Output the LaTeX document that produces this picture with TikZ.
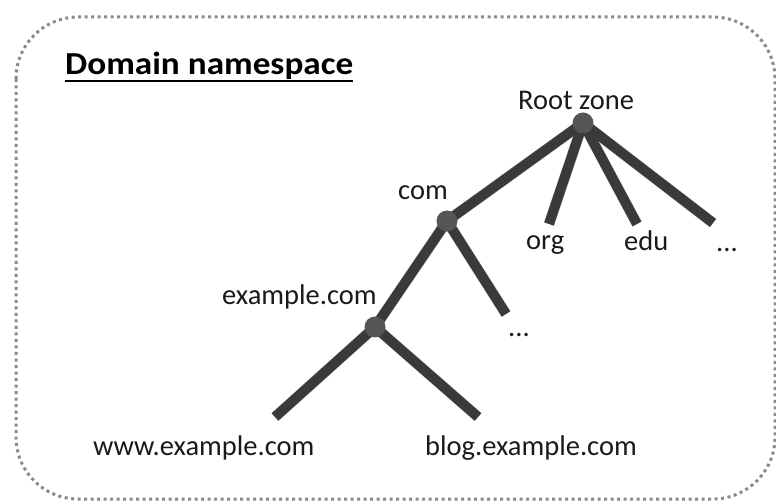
\documentclass[tikz,border=0pt]{standalone}
\usepackage{fontspec}
\setmainfont{Carlito}
\definecolor{branch}{HTML}{3A3A3A}
\definecolor{dotfill}{HTML}{555555}
\definecolor{frame}{HTML}{8A8A8A}
\definecolor{txt}{HTML}{1A1A1A}
\definecolor{shade}{HTML}{D8D8D8}
\tikzset{
  branch/.style={draw=branch, line width=10pt, line cap=butt},
  branchshadow/.style={draw=shade, line width=11pt, line cap=butt, shift={(1.5,2.5)}},
  zone/.style={circle, fill=dotfill, minimum size=21pt, inner sep=0pt},
  lab/.style={font=\fontsize{28.5}{32}\selectfont, text=txt, inner sep=0pt, anchor=base west},
}
\begin{document}
\begin{tikzpicture}[x=1pt,y=-1pt]
\useasboundingbox (0,0) rectangle (776,502);
\fill[white] (0,0) rectangle (776,502);
\draw[frame, line width=3pt, dash pattern=on 3pt off 3.5pt, rounded corners=62pt] (16,17) rectangle (775,499);
\node[font=\bfseries\fontsize{32}{36}\selectfont, anchor=base west, inner sep=0pt, xscale=1.1] (title) at (65,75) {Domain namespace};
\draw[line width=2.5pt] (title.base west) ++(0,6) coordinate (ul1) -- (title.east |- ul1);

\coordinate (root) at (583,123);
\coordinate (com) at (447,221);
\coordinate (ex) at (375,327);
\coordinate (org) at (549,224);
\coordinate (edu) at (637,224);
\coordinate (oth) at (713,223);
\coordinate (comoth) at (506,314);
\coordinate (www) at (275,417);
\coordinate (blog) at (478,417);

\foreach \a/\b in {root/com,root/org,root/edu,root/oth,com/ex,com/comoth,ex/www,ex/blog}
  \draw[branchshadow] (\a) -- (\b);
\foreach \a/\b in {root/com,root/org,root/edu,root/oth,com/ex,com/comoth,ex/www,ex/blog}
  \draw[branch] (\a) -- (\b);
\node[zone] (nroot) at (root) {};
\node[zone] (ncom) at (com) {};
\node[zone] (nex) at (ex) {};

\node[lab] (lroot) at (518,110) {Root zone};
\node[lab] (lcom) at (398,200) {com};
\node[lab] (lorg) at (526,250) {org};
\node[lab] (ledu) at (624,251) {edu};
\node[lab] (loth) at (716,252) {...};
\node[lab] (lex) at (222,305) {example.com};
\node[lab] (lcomoth) at (508,337) {...};
\node[lab] (lwww) at (93,455) {www.example.com};
\node[lab] (lblog) at (425,455) {blog.example.com};
\end{tikzpicture}
\end{document}
